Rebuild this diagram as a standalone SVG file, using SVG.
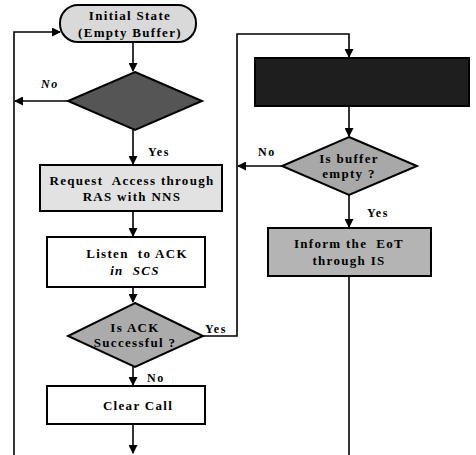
<svg xmlns="http://www.w3.org/2000/svg" width="476" height="455" viewBox="0 0 476 455">
<defs>
<marker id="ah" markerWidth="9" markerHeight="9" refX="8" refY="4.5" orient="auto" markerUnits="userSpaceOnUse">
<path d="M0,0 L9,4.5 L0,9 Z" fill="#000"/>
</marker>
<style>
.ln{stroke:#000;stroke-width:1.6;fill:none}
.box{stroke:#000;stroke-width:2}
.t{font-family:"Liberation Serif","Times New Roman",serif;font-weight:bold;font-size:13px;letter-spacing:1.3px;text-anchor:middle;fill:#000;white-space:pre}
.lb{font-family:"Liberation Serif","Times New Roman",serif;font-weight:bold;font-size:12px;letter-spacing:1.5px;fill:#000}
</style>
</defs>
<rect width="476" height="455" fill="#fff"/>
<g id="connectors">
<path class="ln" d="M133,42 V71" marker-end="url(#ah)"/>
<path class="ln" d="M68,101 H15" marker-end="url(#ah)"/>
<path class="ln" d="M14,455 V32 H60" marker-end="url(#ah)"/>
<path class="ln" d="M133,130 V164" marker-end="url(#ah)"/>
<path class="ln" d="M133,211 V236" marker-end="url(#ah)"/>
<path class="ln" d="M133,287 V302" marker-end="url(#ah)"/>
<path class="ln" d="M133,367 V385" marker-end="url(#ah)"/>
<path class="ln" d="M133,424 V453" marker-end="url(#ah)"/>
<path class="ln" d="M203,336 H237 V34 H349 V57" marker-end="url(#ah)"/>
<path class="ln" d="M349,106 V136" marker-end="url(#ah)"/>
<path class="ln" d="M282,166 H238" marker-end="url(#ah)"/>
<path class="ln" d="M349,195 V227" marker-end="url(#ah)"/>
<path class="ln" d="M349,276 V455"/>
<text class="lb" x="41" y="88" font-style="italic">No</text>
<text class="lb" x="148" y="156">Yes</text>
<text class="lb" x="258" y="156">No</text>
<text class="lb" x="367" y="217">Yes</text>
<text class="lb" x="205" y="333">Yes</text>
<text class="lb" x="147" y="382">No</text>
</g>
<g id="initial-state">
<rect class="box" x="60" y="5" width="136" height="37" rx="18" fill="#d9d9d9"/>
<text class="t" x="130" y="20">Initial State</text>
<text class="t" x="130" y="37">(Empty Buffer)</text>
</g>
<g id="decision-1">
<polygon class="box" points="135,72 202,101 135,130 68,101" fill="#555"/>
</g>
<g id="request-access">
<rect class="box" x="40" y="165" width="182" height="46" fill="#e2e2e2"/>
<text class="t" x="132" y="185" xml:space="preserve">Request  Access through</text>
<text class="t" x="132" y="201">RAS with NNS</text>
</g>
<g id="listen-ack">
<rect class="box" x="47" y="237" width="158" height="50" fill="#fff"/>
<text class="t" x="137" y="258" xml:space="preserve">Listen  to ACK</text>
<text class="t" x="135" y="275" font-style="italic" xml:space="preserve">in  SCS</text>
</g>
<g id="ack-successful">
<polygon class="box" points="135,303 203,336 135,367 68,336" fill="#ababab"/>
<text class="t" x="135" y="332">Is ACK</text>
<text class="t" x="135" y="347">Successful ?</text>
</g>
<g id="clear-call">
<rect class="box" x="47" y="386" width="158" height="38" fill="#fff"/>
<text class="t" x="138" y="410">Clear Call</text>
</g>
<g id="dark-process">
<rect class="box" x="255" y="58" width="214" height="48" fill="#1e1e1e"/>
</g>
<g id="buffer-empty">
<polygon class="box" points="349,137 417,166 349,195 282,166" fill="#a8a8a8"/>
<text class="t" x="349" y="163">Is buffer</text>
<text class="t" x="349" y="178">empty ?</text>
</g>
<g id="inform-eot">
<rect class="box" x="268" y="228" width="163" height="48" fill="#b4b4b4"/>
<text class="t" x="349" y="248" xml:space="preserve">Inform the  EoT</text>
<text class="t" x="349" y="265">through IS</text>
</g>
</svg>
